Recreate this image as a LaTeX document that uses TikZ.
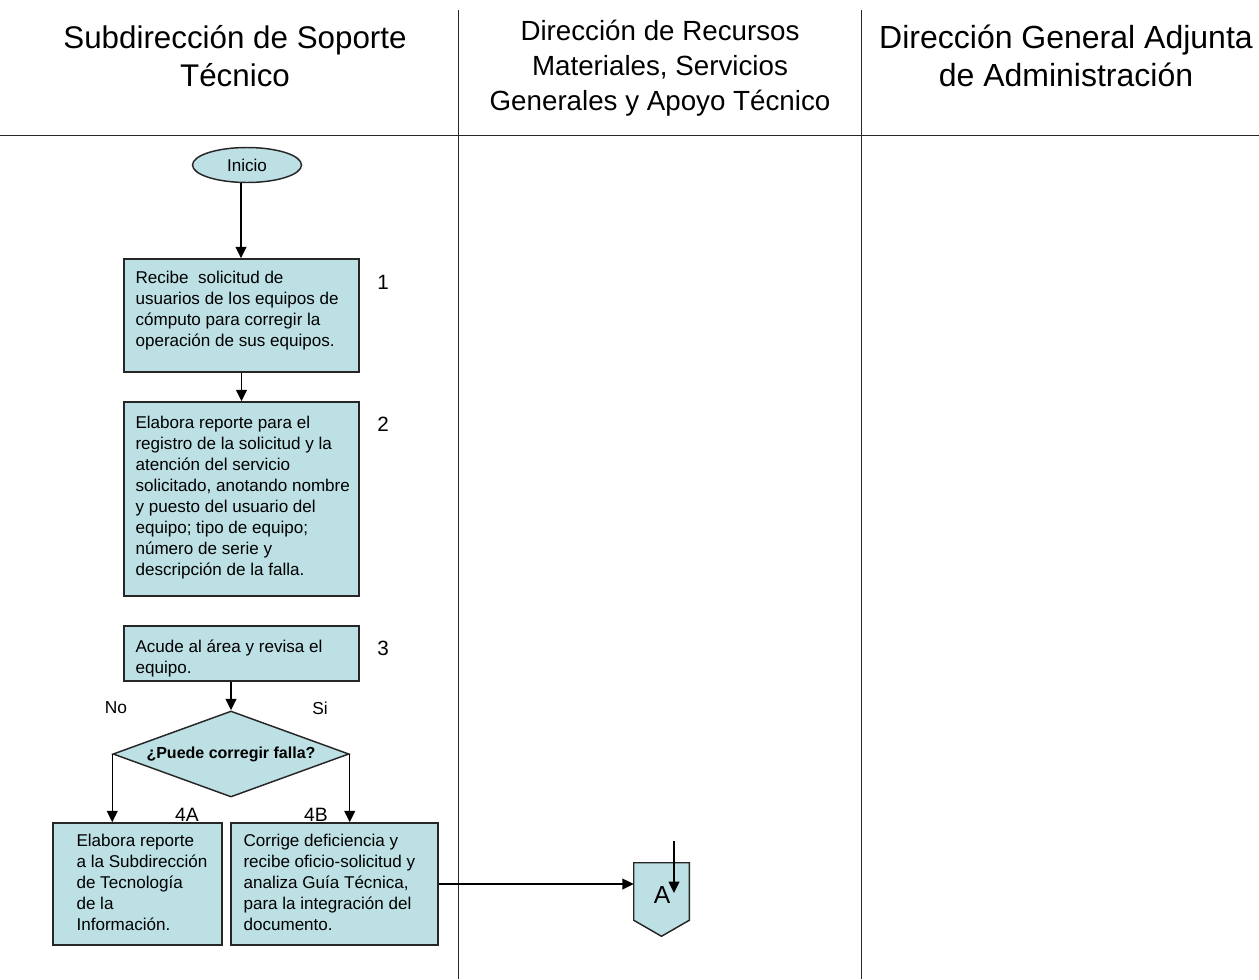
\documentclass[tikz,border=0pt]{standalone}
\usepackage{fontspec}
\setmainfont{Liberation Sans}
\usetikzlibrary{arrows.meta,shapes.geometric,fit,calc}
\definecolor{boxfill}{RGB}{188,224,228}
\newlength\pxl
\setlength\pxl{0.75pt}
\begin{document}
\begin{tikzpicture}[x=0.75pt,y=-0.75pt,
  every node/.style={font=\fontsize{12.8}{15.75}\selectfont},
  flowbox/.style={draw=black!85, line width=1.1pt, fill=boxfill, inner sep=0pt, rectangle},
  boxtext/.style={align=left, inner sep=0pt, anchor=west},
  headtext/.style={align=center, inner sep=0pt},
  steplabel/.style={font=\fontsize{15.5}{18}\selectfont},
  branchlabel/.style={font=\fontsize{13}{16}\selectfont},
  arr/.style={-{Triangle[length=8.5pt,width=8pt]}, line width=1.1pt},
  lane/.style={line width=0.7pt, black!85}]
\useasboundingbox (0,0) rectangle (1259,979);

% swimlane grid
\draw[lane] (0,135) -- (1259,135);
\draw[lane] (458,10) -- (458,979);
\draw[lane] (861,10) -- (861,979);

% lane headings
\node[headtext, font=\fontsize{23.5}{28.5}\selectfont] (h1) at (235,56) {Subdirección de Soporte\\Técnico};
\node[headtext, font=\fontsize{20.8}{26.2}\selectfont] (h2) at (660,68) {Dirección de Recursos\\Materiales, Servicios\\Generales y Apoyo Técnico};
\node[headtext, font=\fontsize{24}{28.5}\selectfont] (h3) at (1066,56) {Dirección General Adjunta\\de Administración};

% start
\node[ellipse, draw=black!85, line width=1.1pt, fill=boxfill, inner sep=0pt,
      minimum width=109\pxl, minimum height=35\pxl] (ini) at (247,165) {Inicio};

% step 1
\node[flowbox, fit={(124,259) (359,372)}] (b1) {};
\node[boxtext] (t1) at ($(b1.west)+(12,-5)$) {Recibe\ \ solicitud de\\usuarios de los equipos de\\cómputo para corregir la\\operación de sus equipos.};
\node[steplabel] (n1) at (383,282) {1};

% step 2
\node[flowbox, fit={(124,402) (359,596)}] (b2) {};
\node[boxtext] (t2) at ($(b2.west)+(12,-1)$) {Elabora reporte para el\\registro de la solicitud y la\\atención del servicio\\solicitado, anotando nombre\\y puesto del usuario del\\equipo; tipo de equipo;\\número de serie y\\descripción de la falla.};
\node[steplabel] (n2) at (383,424) {2};

% step 3
\node[flowbox, fit={(124,626) (359,681)}] (b3) {};
\node[boxtext] (t3) at ($(b3.west)+(12,5)$) {Acude al área y revisa el\\equipo.};
\node[steplabel] (n3) at (383,648) {3};

% decision
\node[diamond, aspect=2.74, draw=black!85, line width=1.1pt, fill=boxfill, inner sep=0pt,
      minimum width=236\pxl, minimum height=86\pxl,
      font=\bfseries\fontsize{12}{14}\selectfont] (d) at (231,754) {¿Puede corregir falla?};
\node[branchlabel] (no) at (116,708) {No};
\node[branchlabel] (si) at (320,708) {Si};

% step 4A / 4B
\node[flowbox, fit={(53,823) (222,945)}] (b4a) {};
\node[boxtext] (t4a) at ($(b4a.west)+(24,-2)$) {Elabora reporte\\a la Subdirección\\de Tecnología\\de la\\Información.};
\node[font=\fontsize{14.5}{17}\selectfont] (l4a) at (187,815) {4A};

\node[flowbox, fit={(231,823) (438,945)}] (b4b) {};
\node[boxtext] (t4b) at ($(b4b.west)+(13,-2)$) {Corrige deficiencia y\\recibe oficio-solicitud y\\analiza Guía Técnica,\\para la integración del\\documento.};
\node[font=\fontsize{14.5}{17}\selectfont] (l4b) at (316,815) {4B};

% off-page connector A
\node[inner sep=0pt, minimum width=55\pxl, minimum height=57\pxl] (offA) at (661.5,891.5) {};
\draw[draw=black!85, line width=1.1pt, fill=boxfill]
  (offA.north west) -- (offA.north east) -- (offA.south east)
  -- ($(offA.south)+(0,16)$) -- (offA.south west) -- cycle;
\node[font=\fontsize{18.5}{22}\selectfont] (la) at (662,895) {A};
\coordinate (topA) at (674,841);
\coordinate (tipA) at (674,893);

% connectors
\draw[arr] ([xshift=-4.5pt]ini.south) -- ([xshift=-4.5pt]ini.south |- b1.north);
\draw[arr] (b1.south) -- (b2.north);
\draw[arr] (b3.south -| d.north) -- (d.north);
\draw[arr] (d.west) -- (d.west |- b4a.north);
\draw[arr] (d.east) -- (d.east |- b4b.north);
\draw[arr] (b4b.east) -- (b4b.east -| offA.west);
\draw[arr] (topA) -- (tipA);
\end{tikzpicture}
\end{document}
